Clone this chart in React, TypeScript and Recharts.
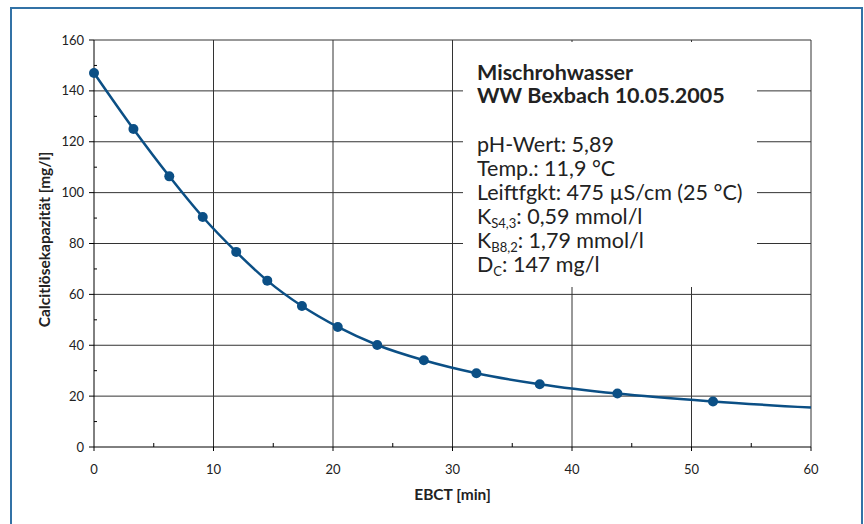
import React from "react";
import {
  ComposedChart,
  Line,
  Scatter,
  XAxis,
  YAxis,
  ReferenceLine,
} from "recharts";

// Messpunkte (EBCT in min, Calcitlösekapazität in mg/l)
const ebct = [0, 3.3, 6.3, 9.1, 11.9, 14.5, 17.4, 20.4, 23.7, 27.6, 32.0, 37.3, 43.8, 51.8];
const calcit = [147, 125, 106.4, 90.4, 76.7, 65.4, 55.4, 47.2, 40.1, 34.1, 29.0, 24.7, 21.0, 17.9];
// Verlauf der Ausgleichskurve bis zum Achsenende
const curveEndX = 60;
const curveEndY = 15.5;

const xTicks = [0, 5, 10, 15, 20, 25, 30, 35, 40, 45, 50, 55, 60];
const xGrid = [10, 20, 30, 40, 50, 60];
const yTicks = [0, 10, 20, 30, 40, 50, 60, 70, 80, 90, 100, 110, 120, 130, 140, 150, 160];
const yGrid = [20, 40, 60, 80, 100, 120, 140, 160];

const points = ebct.map((x, i) => ({ x, y: calcit[i] }));
const curve = [...points, { x: curveEndX, y: curveEndY }];

const BLUE = "#0b4f85";
const GRID = "#333";
const FONT = "Lato, 'Open Sans', sans-serif";

const YTick = (props: any) => {
  const { x, y, payload } = props;
  const major = payload.value % 20 === 0;
  return (
    <g>
      {major ? (
        <>
          <line x1={x - 5} x2={x} y1={y} y2={y} stroke="#000" />
          <text x={x - 10} y={y} dy="0.35em" textAnchor="end" fontSize={13} fill="#222" fontFamily={FONT}>
            {payload.value}
          </text>
        </>
      ) : (
        <line x1={x} x2={x + 3} y1={y} y2={y} stroke="#000" />
      )}
    </g>
  );
};

const XTick = (props: any) => {
  const { x, y, payload } = props;
  const major = payload.value % 10 === 0;
  return (
    <g>
      {major ? (
        <>
          <line x1={x} x2={x} y1={y} y2={y + 4} stroke="#000" />
          <text x={x} y={y + 27} textAnchor="middle" fontSize={13} fill="#222" fontFamily={FONT}>
            {payload.value}
          </text>
        </>
      ) : (
        <line x1={x} x2={x} y1={y} y2={y - 4} stroke="#000" />
      )}
    </g>
  );
};

const YLabel = (props: any) => {
  const vb = props.viewBox;
  const cx = vb.x + 45;
  const cy = vb.y + vb.height / 2 - 4;
  return (
    <text
      x={cx}
      y={cy}
      transform={`rotate(-90 ${cx} ${cy})`}
      textAnchor="middle"
      dy="0.35em"
      fontSize={15.5}
      fontWeight="bold"
      fill="#222"
      fontFamily={FONT}
    >
      Calcitlösekapazität [mg/l]
    </text>
  );
};

const XLabel = (props: any) => {
  const vb = props.viewBox;
  return (
    <text
      x={vb.x + vb.width / 2}
      y={vb.y + 53}
      textAnchor="middle"
      fontSize={15.5}
      fontWeight="bold"
      fill="#222"
      fontFamily={FONT}
    >
      EBCT [min]
    </text>
  );
};

const lineStyle: React.CSSProperties = { lineHeight: "24px", height: 24, fontSize: 21.5, whiteSpace: "nowrap" };
const subStyle: React.CSSProperties = { fontSize: 13, position: "relative", top: 4, lineHeight: 0 };

export default function App() {
  return (
    <div
      style={{
        position: "absolute",
        left: 0,
        top: 0,
        width: 864,
        height: 524,
        overflow: "hidden",
        background: "#fff",
        fontFamily: FONT,
      }}
    >
      <div
        style={{
          position: "absolute",
          left: 10,
          top: 7,
          width: 853,
          height: 540,
          boxSizing: "border-box",
          border: "2px solid #3272a6",
        }}
      />
      <ComposedChart
        width={864}
        height={524}
        margin={{ top: 40, right: 53, bottom: 0, left: 0 }}
        style={{ position: "absolute", left: 0, top: 0 }}
      >
        <XAxis
          type="number"
          dataKey="x"
          domain={[0, 60]}
          ticks={xTicks}
          interval={0}
          height={77}
          tickSize={0}
          tickMargin={0}
          tickLine={false}
          axisLine={{ stroke: "#000" }}
          tick={<XTick />}
          label={<XLabel />}
        />
        <YAxis
          type="number"
          dataKey="y"
          domain={[0, 160]}
          ticks={yTicks}
          interval={0}
          width={94}
          tickSize={0}
          tickMargin={0}
          tickLine={false}
          axisLine={{ stroke: "#000" }}
          tick={<YTick />}
          label={<YLabel />}
        />
        {yGrid.map((v) => (
          <ReferenceLine key={`h${v}`} y={v} stroke={GRID} strokeWidth={1} />
        ))}
        {xGrid.map((v) => (
          <ReferenceLine key={`v${v}`} x={v} stroke={GRID} strokeWidth={1} />
        ))}
        <Line
          data={curve}
          dataKey="y"
          type="monotone"
          stroke={BLUE}
          strokeWidth={2.5}
          dot={false}
          activeDot={false}
          isAnimationActive={false}
        />
        <Scatter
          data={points}
          dataKey="y"
          fill={BLUE}
          shape={(p: any) => <circle cx={p.cx} cy={p.cy} r={5} fill={BLUE} />}
          isAnimationActive={false}
        />
      </ComposedChart>
      <div
        style={{
          position: "absolute",
          left: 463,
          top: 42,
          width: 294,
          height: 245,
          background: "#fff",
          color: "#222",
        }}
      >
        <div
          style={{
            position: "absolute",
            left: 14,
            top: 19,
            fontWeight: "bold",
            fontSize: 21.5,
            lineHeight: "23px",
            whiteSpace: "nowrap",
          }}
        >
          <div>Mischrohwasser</div>
          <div>WW Bexbach 10.05.2005</div>
        </div>
        <div style={{ position: "absolute", left: 14, top: 90 }}>
          <div style={lineStyle}>pH-Wert: 5,89</div>
          <div style={lineStyle}>Temp.: 11,9 °C</div>
          <div style={lineStyle}>Leiftfgkt: 475 µS/cm (25 °C)</div>
          <div style={lineStyle}>
            K<span style={subStyle}>S4,3</span>: 0,59 mmol/l
          </div>
          <div style={lineStyle}>
            K<span style={subStyle}>B8,2</span>: 1,79 mmol/l
          </div>
          <div style={lineStyle}>
            D<span style={subStyle}>C</span>: 147 mg/l
          </div>
        </div>
      </div>
    </div>
  );
}
